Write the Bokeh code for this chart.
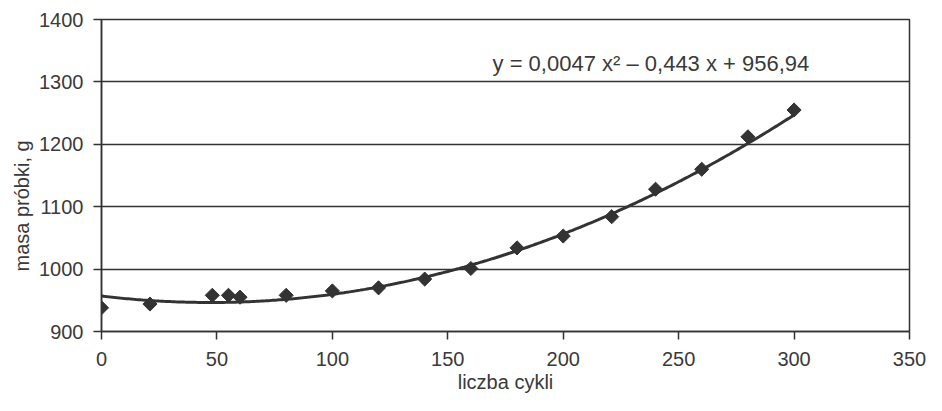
import numpy as np
from bokeh.plotting import figure
from bokeh.models import Range1d, FixedTicker, Label, Title
from bokeh.embed import file_html
from bokeh.resources import INLINE

# data
cycles = [0, 21, 48, 55, 60, 80, 100, 120, 140, 160, 180, 200, 221, 240, 260, 280, 300]
mass = [938, 944, 958, 958, 955, 958, 965, 970, 984, 1001, 1034, 1053, 1084, 1128, 1160, 1212, 1255]
# trend line coefficients as printed on the chart (a*x^2 + b*x + c)
trend_coef = [0.0047, -0.443, 956.94]
x_ticks = [0, 50, 100, 150, 200, 250, 300, 350]
y_ticks = [900, 1000, 1100, 1200, 1300, 1400]
equation = "y = 0,0047 x² – 0,443 x + 956,94"

INK = "#333333"
TXT = "#3a3a3a"
FONT = "Liberation Sans"

p = figure(width=926, height=395, output_backend="svg", toolbar_location=None,
           x_range=Range1d(0, 350), y_range=Range1d(900, 1400),
           min_border_left=101, min_border_top=19, min_border_right=17, min_border_bottom=63)
p.background_fill_color = "white"
p.border_fill_color = "white"
p.outline_line_color = INK
p.outline_line_width = 1.5

p.xgrid.visible = False
p.ygrid.ticker = FixedTicker(ticks=y_ticks)
p.ygrid.grid_line_color = INK
p.ygrid.grid_line_width = 1.3

for ax in (p.xaxis[0], p.yaxis[0]):
    ax.axis_line_color = INK
    ax.axis_line_width = 1.5
    ax.major_tick_line_color = INK
    ax.major_tick_line_width = 1.5
    ax.major_tick_in = 0
    ax.major_tick_out = 8
    ax.minor_tick_line_color = None
    ax.major_label_text_font = FONT
    ax.major_label_text_font_size = "20px"
    ax.major_label_text_color = TXT

p.xaxis.ticker = FixedTicker(ticks=x_ticks)
p.yaxis.ticker = FixedTicker(ticks=y_ticks)
p.xaxis.major_label_standoff = 12
p.yaxis.major_label_standoff = 10

p.xaxis.axis_label = "liczba cykli"
p.xaxis.axis_label_text_font = FONT
p.xaxis.axis_label_text_font_size = "20px"
p.xaxis.axis_label_text_font_style = "normal"
p.xaxis.axis_label_text_color = TXT
p.xaxis.axis_label_standoff = 2

# y axis title, placed lower than centre as in the reference
ytitle = Title(text="masa próbki, g", align="left", offset=60, standoff=8,
               text_font=FONT, text_font_size="20px", text_font_style="normal",
               text_color=TXT)
p.add_layout(ytitle, "left")

# trend line
xs = np.linspace(0, 300, 301)
ys = np.polyval(trend_coef, xs)
p.line(xs, ys, line_color=INK, line_width=3)

# data points
p.scatter(cycles, mass, marker="square", size=10, angle=np.pi / 4,
          fill_color=INK, line_color=INK)

eq = Label(x=238, y=1330, text=equation, text_align="center", text_baseline="middle",
           text_font=FONT, text_font_size="22px", text_color=TXT)
p.add_layout(eq)

open("out.html", "w").write(file_html(p, INLINE))
